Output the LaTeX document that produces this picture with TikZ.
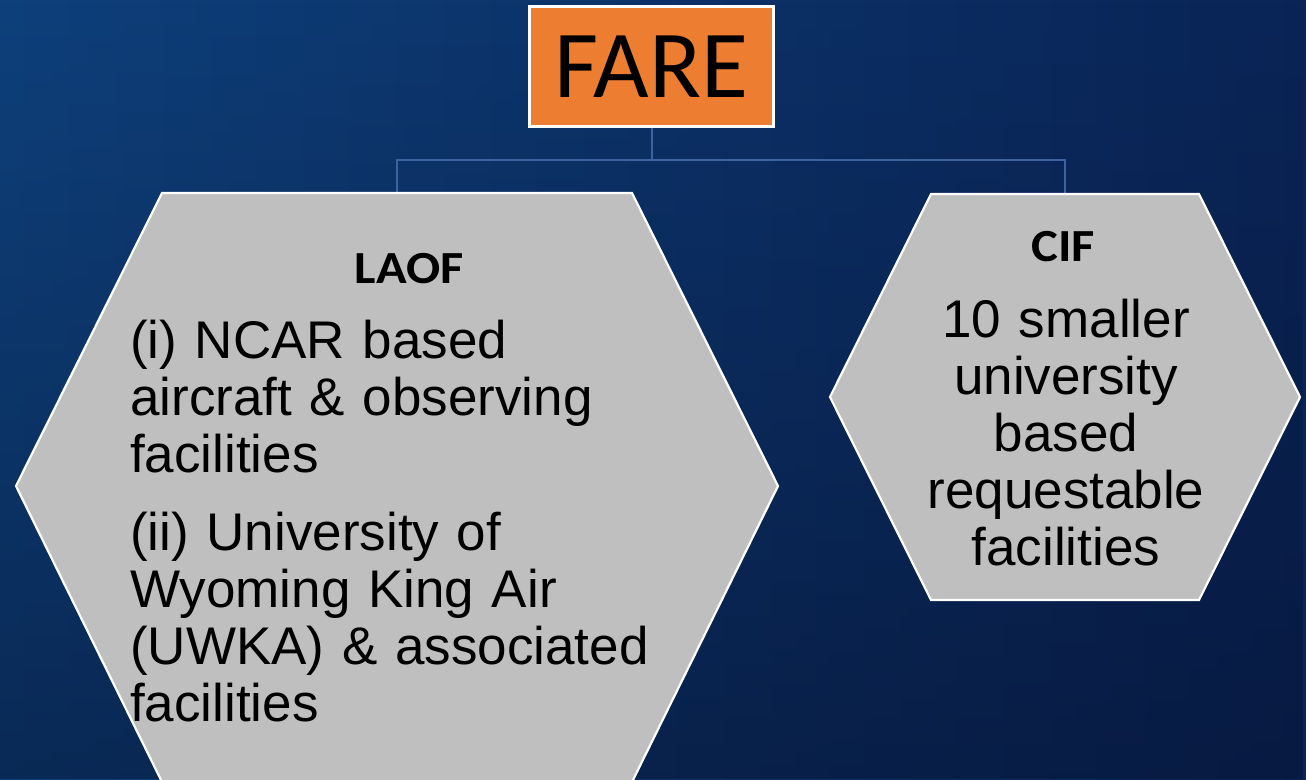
\documentclass[tikz,border=0pt]{standalone}
\usepackage{fontspec}
\newfontfamily\arialf{Liberation Sans}
\newfontfamily\calib{Carlito}
\newfontfamily\calibw[FakeStretch=1.1]{Carlito}
\usetikzlibrary{fadings}
\definecolor{bgL}{RGB}{14,64,123}
\definecolor{bgR}{RGB}{10,36,86}
\definecolor{bgD}{RGB}{4,14,40}
\definecolor{connblue}{RGB}{60,98,160}
\definecolor{fareorange}{RGB}{237,125,49}
\definecolor{hexgray}{RGB}{191,191,191}
\tikzfading[name=fadebot, top color=transparent!100, bottom color=transparent!55]
\begin{document}
\begin{tikzpicture}[x=1pt,y=-1pt,
  hexbox/.style={fill=hexgray, draw=white, line width=2.2pt, line join=miter},
  farebox/.style={fill=fareorange, draw=white, line width=3pt, minimum width=244pt, minimum height=120pt, inner sep=0pt, font=\calib\fontsize{96}{96}\selectfont, text=black},
  headlbl/.style={font=\calibw\bfseries\fontsize{46}{46}\selectfont, inner sep=0pt, anchor=base, text=black},
  bodylbl/.style={font=\arialf\fontsize{53}{57}\selectfont, inner sep=0pt, text=black},
  connector/.style={draw=connblue, line width=2pt}]
\useasboundingbox (0,0) rectangle (1306,779);
% background
\shade[left color=bgL, right color=bgR] (0,0) rectangle (1306,779);
\fill[bgD, path fading=fadebot] (0,0) rectangle (1306,779);
% top node
\node[farebox] (fare) at (651.5,66.5) {FARE};
% connectors
\coordinate (bus) at (651.5,160);
\coordinate (laoftop) at (397,193);
\coordinate (ciftop) at (1065,194);
\draw[connector] (fare.south) -- (bus);
\draw[connector] (laoftop) |- (bus) -| (ciftop);
% hexagons
\draw[hexbox] (162,193) -- (632,193) -- (778,486) -- (632,782) -- (162,782) -- (16,486) -- cycle;
\draw[hexbox] (931,194) -- (1199,194) -- (1300,397) -- (1199,600) -- (931,600) -- (830,397) -- cycle;
% texts
\node[headlbl] (laof) at (409,283) {LAOF};
\node[bodylbl, anchor=base west, text width=600pt, align=left] (laofbody) at (130,358)
  {(i) NCAR based\\aircraft \& observing\\facilities\\[21pt](ii) University of\\Wyoming King Air\\(UWKA) \& associated\\facilities};
\node[headlbl] (cif) at (1063,261) {CIF};
\node[bodylbl, anchor=base, text width=400pt, align=center] (cifbody) at (1066,337)
  {10 smaller\\university\\based\\requestable\\facilities};
\end{tikzpicture}
\end{document}
